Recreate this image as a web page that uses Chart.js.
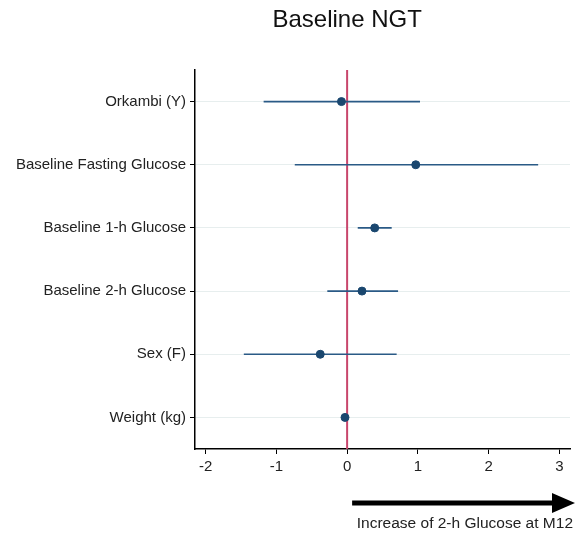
<!DOCTYPE html>
<html>
<head>
<meta charset="utf-8">
<script src="https://cdn.jsdelivr.net/npm/chart.js@4/dist/chart.umd.min.js"></script>
<style>
  html, body { margin: 0; padding: 0; background: #fff; }
  #wrap { width: 575px; height: 534px; position: relative; }
</style>
</head>
<body>
<div id="wrap"><canvas id="chartForest"></canvas></div>
<script>
  // Datos del forest plot
  const categorias = ['Orkambi (Y)', 'Baseline Fasting Glucose', 'Baseline 1-h Glucose', 'Baseline 2-h Glucose', 'Sex (F)', 'Weight (kg)'];
  const estimacion = [-0.08, 0.97, 0.39, 0.21, -0.38, -0.03];
  const limiteInf = [-1.18, -0.74, 0.15, -0.28, -1.46, -0.06];
  const limiteSup = [1.03, 2.70, 0.63, 0.72, 0.70, 0.01];
  const ticksX = [-2, -1, 0, 1, 2, 3];
  const titulo = 'Baseline NGT';
  const tituloEje = 'Increase of 2-h Glucose at M12';

  const azul = '#1a476f';
  const rojo = '#c8466c';
  const fuente = '"Liberation Sans", Arial, sans-serif';

  // un dataset por fila para las barras de error
  const barrasError = categorias.map((c, i) => ({
    type: 'scatter',
    showLine: true,
    data: [{ x: limiteInf[i], y: i }, { x: limiteSup[i], y: i }],
    borderColor: '#2a5a86',
    borderWidth: 1.6,
    pointRadius: 0,
    order: 2,
  }));

  // título centrado sobre la línea del cero, flecha y texto bajo el eje
  const extrasPlugin = {
    id: 'extras',
    afterDraw(chart) {
      const ctx = chart.ctx;
      const xCero = chart.scales.x.getPixelForValue(0);
      ctx.save();
      ctx.fillStyle = '#111';
      ctx.font = '24px ' + fuente;
      ctx.textAlign = 'center';
      ctx.textBaseline = 'middle';
      ctx.fillText(titulo, xCero, 20);

      const x0 = xCero + 5;
      const y = 503;
      ctx.strokeStyle = '#000';
      ctx.fillStyle = '#000';
      ctx.lineWidth = 5;
      ctx.beginPath();
      ctx.moveTo(x0, y);
      ctx.lineTo(556, y);
      ctx.stroke();
      ctx.beginPath();
      ctx.moveTo(552, y - 10);
      ctx.lineTo(575, y);
      ctx.lineTo(552, y + 10);
      ctx.closePath();
      ctx.fill();
      ctx.font = '15.5px ' + fuente;
      ctx.textAlign = 'right';
      ctx.textBaseline = 'middle';
      ctx.fillStyle = '#222';
      ctx.fillText(tituloEje, 573, 524);
      ctx.restore();
    }
  };

  new Chart(document.getElementById('chartForest'), {
    type: 'scatter',
    data: {
      datasets: [
        {
          data: estimacion.map((v, i) => ({ x: v, y: i })),
          backgroundColor: azul,
          borderColor: azul,
          pointRadius: 4,
          pointStyle: 'circle',
          order: 0,
        },
        ...barrasError,
        {
          type: 'scatter',
          showLine: true,
          data: [{ x: 0, y: -0.5 }, { x: 0, y: 5.5 }],
          borderColor: rojo,
          borderWidth: 2,
          pointRadius: 0,
          order: 3,
        },
      ],
    },
    options: {
      responsive: true,
      maintainAspectRatio: false,
      animation: false,
      layout: { padding: { left: 0, right: 5, top: 70, bottom: 0 } },
      plugins: {
        legend: { display: false },
        tooltip: { enabled: false },
        title: { display: false },
      },
      scales: {
        x: {
          type: 'linear',
          min: -2.15,
          max: 3.15,
          afterBuildTicks: (axis) => { axis.ticks = ticksX.map(v => ({ value: v })); },
          afterFit: (axis) => { axis.height = 85; },
          border: { color: '#000', width: 1.5 },
          grid: { drawOnChartArea: false, tickLength: 5, tickColor: '#000' },
          ticks: {
            color: '#222',
            padding: 4,
            font: { family: fuente, size: 15 },
          },
        },
        y: {
          type: 'linear',
          reverse: true,
          min: -0.5,
          max: 5.5,
          afterBuildTicks: (axis) => { axis.ticks = categorias.map((c, i) => ({ value: i })); },
          afterFit: (axis) => { axis.width = 195; },
          border: { color: '#000', width: 1.5 },
          grid: { color: '#e7eeee', lineWidth: 1, tickLength: 5, tickColor: '#000' },
          ticks: {
            color: '#222',
            padding: 4,
            font: { family: fuente, size: 15 },
            callback: (v) => categorias[v],
          },
        },
      },
    },
    plugins: [extrasPlugin],
  });
</script>
</body>
</html>
